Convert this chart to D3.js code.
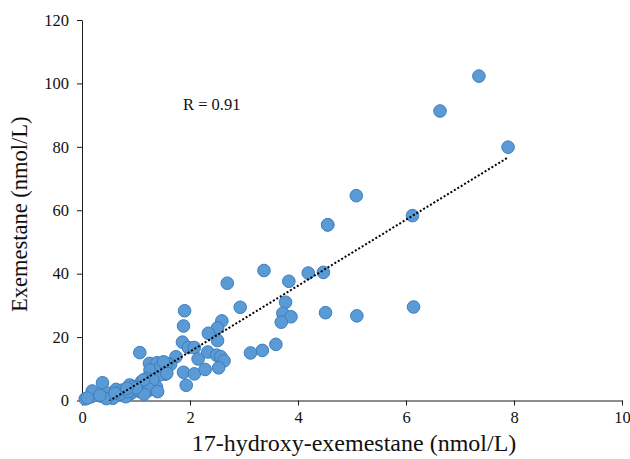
<!DOCTYPE html>
<html><head><meta charset="utf-8">
<script src="https://cdn.jsdelivr.net/npm/d3@7"></script>
<style>body{margin:0;background:#fff}svg{display:block}</style>
</head><body>
<script>
// 17-hydroxy-exemestane (nmol/L)
const xValues = [7.35,6.63,7.89,5.08,4.55,4.55,6.12,6.14,4.19,4.47,3.83,3.37,2.69,3.77,3.72,3.87,3.69,4.51,5.09,3.59,3.34,3.12,2.93,1.90,1.88,2.59,2.51,2.34,2.51,1.86,1.97,2.08,2.15,2.33,2.49,2.57,2.63,1.88,2.08,2.28,2.53,1.93,1.74,1.64,1.57,1.07,1.25,1.39,1.54,1.43,1.26,1.20,1.10,1.32,1.38,1.07,1.25,1.31,1.46,1.22,1.40,1.57,1.51,1.14,
 0.06,0.17,0.38,0.35,0.48,0.63,0.75,0.88,0.91,1.03,0.57,0.81,0.19,0.70,0.95,1.15,0.45,0.85,1.00,0.61,0.83,0.33,0.10];
// Exemestane (nmol/L)
const yValues = [102.3,91.3,79.9,64.6,55.4,55.4,58.3,29.5,40.2,40.4,37.6,41.0,37.0,31.0,27.5,26.4,24.7,27.7,26.7,17.7,15.8,15.0,29.4,28.3,23.5,25.1,22.9,21.2,18.9,18.4,16.7,16.7,13.1,15.3,14.3,13.8,12.5,8.9,8.4,9.8,10.3,4.8,13.8,11.4,11.7,15.1,11.7,11.9,8.3,8.0,9.6,7.0,5.9,4.4,4.2,2.8,3.3,6.5,10.7,3.8,2.8,8.6,12.2,6.5,
 0.5,1.2,5.6,1.4,2.3,3.5,3.3,4.9,2.3,3.3,0.7,1.2,3.0,2.0,4.4,2.0,0.6,2.8,4.0,2.3,3.8,1.7,0.8];
const xTicks = [0,2,4,6,8,10];
const yTicks = [0,20,40,60,80,100,120];
const trendSlope = 10.4, trendIntercept = -5.4;
const rLabel = "R = 0.91";
const xTitle = "17-hydroxy-exemestane (nmol/L)";
const yTitle = "Exemestane (nmol/L)";

const W = 630, H = 459;
const m = {left: 82, right: 8, top: 20, bottom: 58.5};
const svg = d3.select("body").append("svg").attr("width", W).attr("height", H);
const x = d3.scaleLinear().domain([0,10]).range([m.left, W - m.right]);
const y = d3.scaleLinear().domain([0,120]).range([H - m.bottom, m.top]);
const font = "'Liberation Serif','Times New Roman',serif";

svg.append("defs").append("clipPath").attr("id","plot").append("rect")
  .attr("x", m.left).attr("y", m.top).attr("width", x(10)-m.left).attr("height", y(0)-m.top);

const gx = svg.append("g").attr("transform", `translate(0,${y(0)})`)
  .call(d3.axisBottom(x).tickValues(xTicks).tickSize(5).tickPadding(6).tickSizeOuter(0));
const gy = svg.append("g").attr("transform", `translate(${m.left},0)`)
  .call(d3.axisLeft(y).tickValues(yTicks).tickSize(5).tickPadding(8).tickSizeOuter(0));
[gx, gy].forEach(g => {
  g.attr("font-family", font).attr("font-size", 16.5);
  g.selectAll("path,line").attr("stroke", "#1a1a1a").attr("stroke-width", 1);
  g.selectAll("text").attr("font-family", font).attr("font-size", 16.5).attr("fill", "#111");
});

const pts = xValues.map((v,i) => ({x: v, y: yValues[i]}));
svg.append("g").selectAll("circle").data(pts).join("circle")
  .attr("cx", d => x(d.x)).attr("cy", d => y(d.y)).attr("r", 6.3)
  .attr("fill", "#5B9BD5").attr("stroke", "#3E7DBE").attr("stroke-width", 1);

const x0 = d3.min(xValues), x1 = d3.max(xValues);
svg.append("line").attr("clip-path","url(#plot)")
  .attr("x1", x(x0)).attr("y1", y(trendSlope*x0 + trendIntercept))
  .attr("x2", x(x1)).attr("y2", y(trendSlope*x1 + trendIntercept))
  .attr("stroke", "#000").attr("stroke-width", 2).attr("stroke-dasharray", "2,2");

svg.append("text").attr("x", 183).attr("y", 110).attr("font-family", font)
  .attr("font-size", 16.5).attr("fill", "#111").text(rLabel);

svg.append("text").attr("x", (x(0)+x(10))/2 + 2).attr("y", 451).attr("text-anchor","middle")
  .attr("font-family", font).attr("font-size", 24).attr("fill", "#111").text(xTitle);
svg.append("text").attr("transform", `translate(27,${(y(0)+y(120))/2 + 4}) rotate(-90)`)
  .attr("text-anchor","middle").attr("font-family", font).attr("font-size", 22.5)
  .attr("fill", "#111").text(yTitle);
</script>
</body></html>
